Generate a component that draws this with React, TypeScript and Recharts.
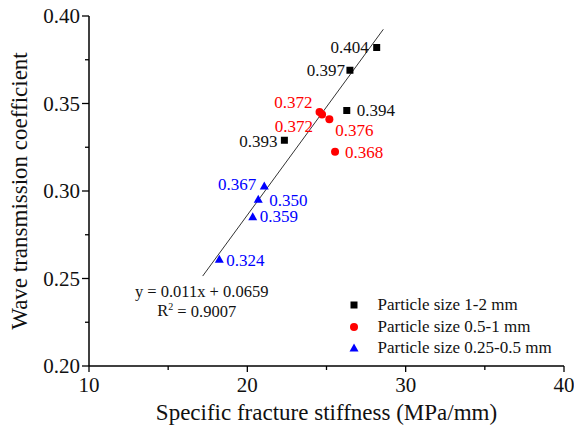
import {
  ScatterChart,
  Scatter,
  XAxis,
  YAxis,
  ReferenceLine,
  ReferenceDot,
  Legend,
} from "recharts";

const FONT = '"Liberation Serif", "Times New Roman", serif';

// axis ticks (majors get labels, the rest are minor ticks)
const X_TICKS = [10, 15, 20, 25, 30, 35, 40];
const Y_TICKS = [0.2, 0.225, 0.25, 0.275, 0.3, 0.325, 0.35, 0.375, 0.4];

// particle size 1-2 mm
const COARSE_X = [28.17, 26.48, 26.28, 22.34];
const COARSE_Y = [0.382, 0.369, 0.346, 0.329];
const COARSE_LABELS = ["0.404", "0.397", "0.394", "0.393"];

// particle size 0.5-1 mm
const MEDIUM_X = [24.56, 24.72, 25.18, 25.54];
const MEDIUM_Y = [0.3451, 0.3437, 0.341, 0.3225];
const MEDIUM_LABELS = ["0.372", "0.372", "0.376", "0.368"];

// particle size 0.25-0.5 mm
const FINE_X = [21.07, 20.69, 20.34, 18.23];
const FINE_Y = [0.3029, 0.2953, 0.2853, 0.261];
const FINE_LABELS = ["0.367", "0.350", "0.359", "0.324"];

// fitted line as drawn
const FIT_X = [17.18, 28.59];
const FIT_Y = [0.2514, 0.3924];
const FIT_EQUATION = "y = 0.011x + 0.0659";
const FIT_R2 = "0.9007";

// label placement per point: [dx, dy, anchor]
const COARSE_LABEL_POS: [number, number, string][] = [
  [-8, 0, "end"],
  [-5, 0, "end"],
  [10, 0, "start"],
  [-7, 1, "end"],
];
const MEDIUM_LABEL_POS: [number, number, string][] = [
  [-7, -10, "end"],
  [-9, 12, "end"],
  [6, 11, "start"],
  [10, 1, "start"],
];
const FINE_LABEL_POS: [number, number, string][] = [
  [-8, -1, "end"],
  [11, 1, "start"],
  [7, 0, "start"],
  [7, 1, "start"],
];

const build = (xs: number[], ys: number[], labels: string[]) =>
  xs.map((x, i) => ({ x, y: ys[i], label: labels[i], i }));

const coarse = build(COARSE_X, COARSE_Y, COARSE_LABELS);
const medium = build(MEDIUM_X, MEDIUM_Y, MEDIUM_LABELS);
const fine = build(FINE_X, FINE_Y, FINE_LABELS);

const BLACK = "#000000";
const RED = "#ff0000";
const BLUE = "#0000ff";

function Marker({ kind, cx, cy, color }: any) {
  if (kind === "square")
    return <rect x={cx - 3.5} y={cy - 3.5} width={7} height={7} fill={color} />;
  if (kind === "circle") return <circle cx={cx} cy={cy} r={4} fill={color} />;
  return (
    <polygon
      points={`${cx},${cy - 4.5} ${cx - 4.5},${cy + 3.5} ${cx + 4.5},${cy + 3.5}`}
      fill={color}
    />
  );
}

function makeShape(kind: string, color: string, pos: [number, number, string][]) {
  return (props: any) => {
    const { cx, cy, payload } = props;
    const [dx, dy, anchor] = pos[payload.i];
    return (
      <g>
        <Marker kind={kind} cx={cx} cy={cy} color={color} />
        <text
          x={cx + dx}
          y={cy + dy}
          dominantBaseline="central"
          textAnchor={anchor}
          fill={color === BLACK ? "#111" : color}
          fontSize={17}
          fontFamily={FONT}
        >
          {payload.label}
        </text>
      </g>
    );
  };
}

const isMajorX = (v: number) => v % 10 === 0;
const isMajorY = (v: number) => Math.round(v * 1000) % 50 === 0;

function XTick(props: any) {
  const { x, y, payload, side } = props;
  const major = isMajorX(payload.value);
  const len = major ? 6 : 4;
  const dir = side === "bottom" ? 1 : -1;
  return (
    <g>
      <line x1={x} x2={x} y1={y} y2={y + dir * len} stroke="#000" strokeWidth={1.3} />
      {side === "bottom" && major && (
        <text x={x} y={y + 26} textAnchor="middle" fontSize={21} fontFamily={FONT} fill="#111">
          {payload.value}
        </text>
      )}
    </g>
  );
}

function YTick(props: any) {
  const { x, y, payload, side } = props;
  const major = isMajorY(payload.value);
  const len = major ? 7 : 4;
  const dir = side === "left" ? -1 : 1;
  return (
    <g>
      <line x1={x} x2={x + dir * len} y1={y} y2={y} stroke="#000" strokeWidth={1.3} />
      {side === "left" && major && (
        <text x={x - 9} y={y + 7} textAnchor="end" fontSize={21} fontFamily={FONT} fill="#111">
          {payload.value.toFixed(2)}
        </text>
      )}
    </g>
  );
}

const SERIES = [
  { name: "Particle size 1-2 mm", kind: "square", color: BLACK },
  { name: "Particle size 0.5-1 mm", kind: "circle", color: RED },
  { name: "Particle size 0.25-0.5 mm", kind: "triangle", color: BLUE },
];

function LegendBox(props: any) {
  const names = (props.payload || []).map((p: any) => p.value);
  const items = SERIES.filter((s) => names.includes(s.name));
  return (
    <div style={{ fontFamily: FONT, fontSize: 17, color: "#111" }}>
      {items.map((s) => (
        <div
          key={s.name}
          style={{ display: "flex", alignItems: "center", height: 21.5, whiteSpace: "nowrap" }}
        >
          <svg width={16} height={16} style={{ flex: "none" }}>
            <Marker kind={s.kind} cx={8} cy={8} color={s.color} />
          </svg>
          <span style={{ marginLeft: 15.5 }}>{s.name}</span>
        </div>
      ))}
    </div>
  );
}

export default function App() {
  return (
    <div style={{ position: "absolute", left: 0, top: 0, background: "#fff" }}>
      <ScatterChart
        width={574}
        height={429}
        margin={{ top: 16, right: 10, bottom: 0, left: 0 }}
      >
        <XAxis
          type="number"
          dataKey="x"
          domain={[10, 40]}
          ticks={X_TICKS}
          interval={0}
          height={63}
          tickSize={0}
          tickMargin={0}
          axisLine={{ stroke: "#000", strokeWidth: 1.5 }}
          tick={<XTick side="bottom" />}
          label={() => (
            <text
              x={326.5}
              y={420}
              textAnchor="middle"
              fontSize={23}
              fontFamily={FONT}
              fill="#111"
            >
              Specific fracture stiffness (MPa/mm)
            </text>
          )}
        />
        <XAxis
          xAxisId="top"
          orientation="top"
          type="number"
          domain={[10, 40]}
          ticks={X_TICKS}
          interval={0}
          height={0}
          tickSize={0}
          tickMargin={0}
          axisLine={{ stroke: "#000", strokeWidth: 1.5 }}
          tick={<XTick side="top" />}
        />
        <YAxis
          type="number"
          dataKey="y"
          domain={[0.2, 0.4]}
          ticks={Y_TICKS}
          interval={0}
          width={89}
          tickSize={0}
          tickMargin={0}
          axisLine={{ stroke: "#000", strokeWidth: 1.5 }}
          tick={<YTick side="left" />}
          label={() => (
            <text
              x={27}
              y={191}
              transform="rotate(-90, 27, 191)"
              textAnchor="middle"
              fontSize={23}
              fontFamily={FONT}
              fill="#111"
            >
              Wave transmission coefficient
            </text>
          )}
        />
        <YAxis
          yAxisId="right"
          orientation="right"
          type="number"
          domain={[0.2, 0.4]}
          ticks={Y_TICKS}
          interval={0}
          width={0}
          tickSize={0}
          tickMargin={0}
          axisLine={{ stroke: "#000", strokeWidth: 1.5 }}
          tick={<YTick side="right" />}
        />
        <ReferenceLine
          segment={[
            { x: FIT_X[0], y: FIT_Y[0] },
            { x: FIT_X[1], y: FIT_Y[1] },
          ]}
          stroke="#333"
          strokeWidth={1}
          ifOverflow="visible"
        />
        <ReferenceDot
          x={FIT_X[0]}
          y={FIT_Y[0]}
          r={0}
          ifOverflow="visible"
          shape={(p: any) => (
            <g fontFamily={FONT} fontSize={16.5} fill="#111">
              <text x={p.cx - 1} y={p.cy + 15.5} textAnchor="middle" dominantBaseline="central">
                {FIT_EQUATION}
              </text>
              <text x={p.cx - 6} y={p.cy + 34.5} textAnchor="middle" dominantBaseline="central">
                {"R"}
                <tspan dy={-5} fontSize={10}>
                  2
                </tspan>
                <tspan dy={5}>{" = " + FIT_R2}</tspan>
              </text>
            </g>
          )}
        />
        <Scatter
          name={SERIES[0].name}
          data={coarse}
          shape={makeShape("square", BLACK, COARSE_LABEL_POS)}
          isAnimationActive={false}
        />
        <Scatter
          name={SERIES[1].name}
          data={medium}
          shape={makeShape("circle", RED, MEDIUM_LABEL_POS)}
          isAnimationActive={false}
        />
        <Scatter
          name={SERIES[2].name}
          data={fine}
          shape={makeShape("triangle", BLUE, FINE_LABEL_POS)}
          isAnimationActive={false}
        />
        <Legend
          layout="horizontal"
          verticalAlign="middle"
          align="center"
          wrapperStyle={{ left: 346, top: 294.5, width: 220 }}
          content={<LegendBox />}
        />
      </ScatterChart>
    </div>
  );
}
